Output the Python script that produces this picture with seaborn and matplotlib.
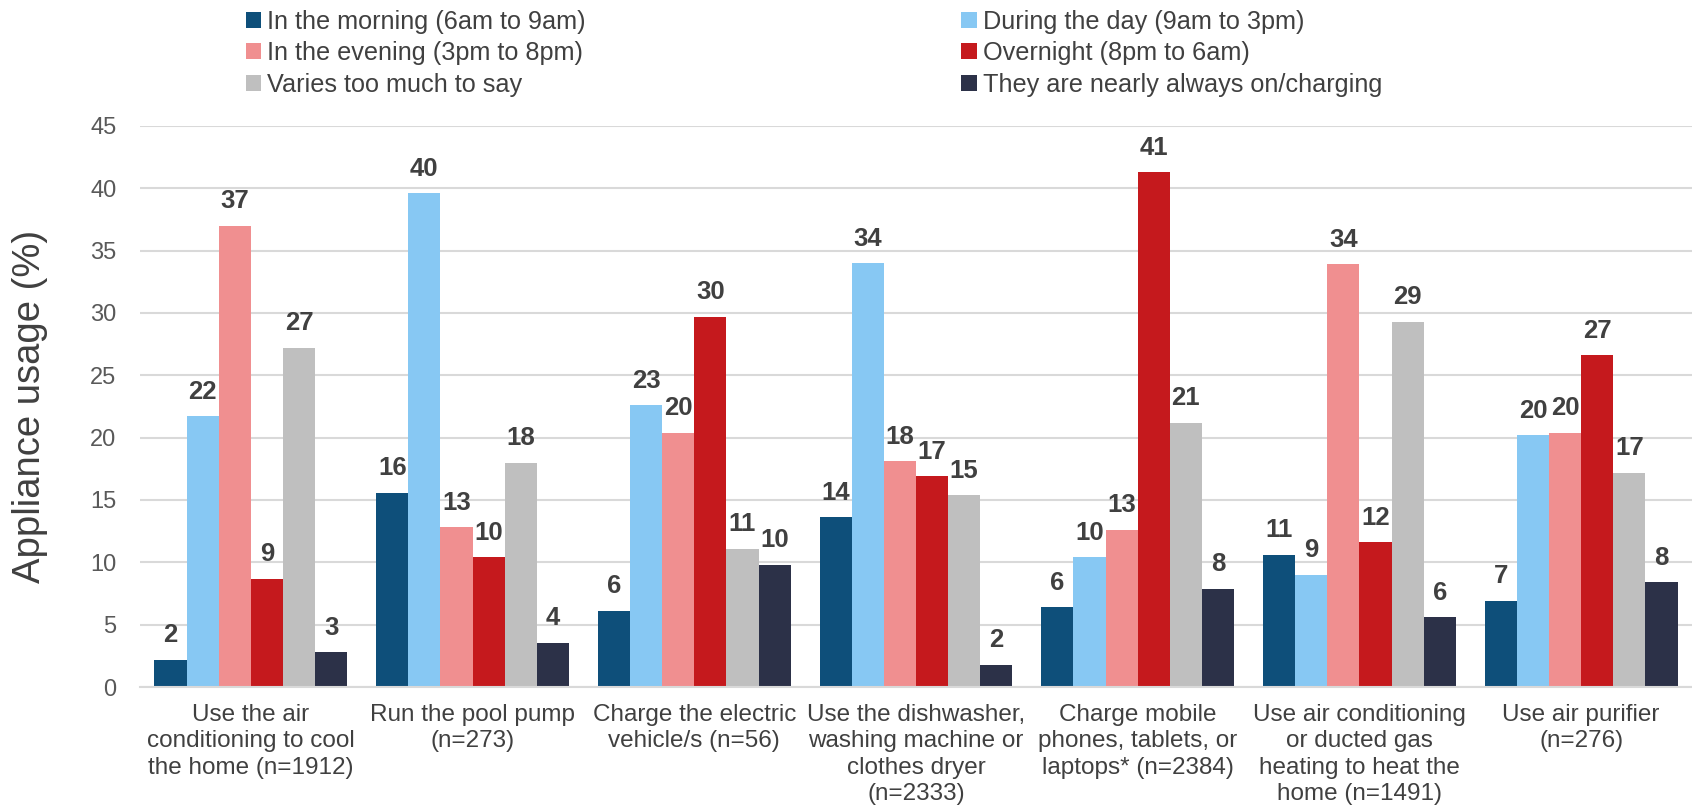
import matplotlib
matplotlib.use("Agg")
import matplotlib.pyplot as plt
from matplotlib.patches import Patch
import seaborn as sns
import pandas as pd

categories = [
    "Use the air\nconditioning to cool\nthe home (n=1912)",
    "Run the pool pump\n(n=273)",
    "Charge the electric\nvehicle/s (n=56)",
    "Use the dishwasher,\nwashing machine or\nclothes dryer\n(n=2333)",
    "Charge mobile\nphones, tablets, or\nlaptops* (n=2384)",
    "Use air conditioning\nor ducted gas\nheating to heat the\nhome (n=1491)",
    "Use air purifier\n(n=276)",
]
series = [
    "In the morning (6am to 9am)",
    "During the day (9am to 3pm)",
    "In the evening (3pm to 8pm)",
    "Overnight (8pm to 6am)",
    "Varies too much to say",
    "They are nearly always on/charging",
]
morning = [2.2, 15.6, 6.1, 13.6, 6.4, 10.6, 6.9]
day = [21.7, 39.6, 22.6, 34.0, 10.4, 9.0, 20.2]
evening = [37.0, 12.8, 20.4, 18.1, 12.6, 33.9, 20.4]
overnight = [8.7, 10.4, 29.7, 16.9, 41.3, 11.6, 26.6]
varies = [27.2, 18.0, 11.1, 15.4, 21.2, 29.3, 17.2]
always = [2.8, 3.55, 9.8, 1.8, 7.9, 5.6, 8.4]
colors = ["#0E4F7A", "#87C8F3", "#F08F90", "#C5191D", "#BFBFBF", "#2C3148"]

values = [morning, day, evening, overnight, varies, always]
rows = []
for s, vals in zip(series, values):
    for c, v in zip(categories, vals):
        rows.append({"cat": c, "series": s, "val": v})
df = pd.DataFrame(rows)

sns.set_style("white")
plt.rcParams["font.family"] = ["Liberation Sans", "DejaVu Sans"]

fig = plt.figure(figsize=(16.92, 8.10), dpi=100)
ax = fig.add_axes([140 / 1692, 1 - 687 / 810, 1 - 140 / 1692, (687 - 126) / 810])

sns.barplot(data=df, x="cat", y="val", hue="series", hue_order=series,
            order=categories, palette=colors, width=0.87, gap=0,
            linewidth=0, saturation=1, legend=False, ax=ax, errorbar=None)

ax.set_ylim(0, 45)
ax.set_xlim(-0.5, len(categories) - 0.5)
ax.set_yticks(range(0, 46, 5))
ax.yaxis.grid(True, color="#D9D9D9", linewidth=1.5)
ax.set_axisbelow(True)
for side in ["left", "right", "top"]:
    ax.spines[side].set_visible(False)
ax.spines["bottom"].set_color("#D9D9D9")
ax.spines["bottom"].set_linewidth(1.5)
ax.tick_params(axis="y", length=0, pad=17, labelsize=17, labelcolor="#595959")
ax.tick_params(axis="x", length=0, pad=12, labelsize=17.5, labelcolor="#404040")
for lbl in ax.get_xticklabels():
    lbl.set_linespacing(1.26)
ax.set_xlabel("")
ax.set_ylabel("Appliance usage (%)", fontsize=27.5, color="#404040")
ax.yaxis.set_label_coords(-0.059, 0.5)

for cont in ax.containers:
    ax.bar_label(cont, fmt="%.0f", padding=9, fontsize=18.5,
                 fontweight="bold", color="#404040")

handles = [Patch(facecolor=c, edgecolor="none") for c in colors]
order = [0, 2, 4, 1, 3, 5]
fig.legend([handles[i] for i in order], [series[i] for i in order],
           loc="upper left", bbox_to_anchor=(246 / 1692, 1 - 10 / 810),
           ncol=2, frameon=False, fontsize=18.2, labelcolor="#404040",
           handlelength=0.6, handleheight=0.6, handletextpad=0.25,
           labelspacing=0.29, columnspacing=14.85, borderpad=0,
           borderaxespad=0)

fig.savefig("out.png", dpi=100)
